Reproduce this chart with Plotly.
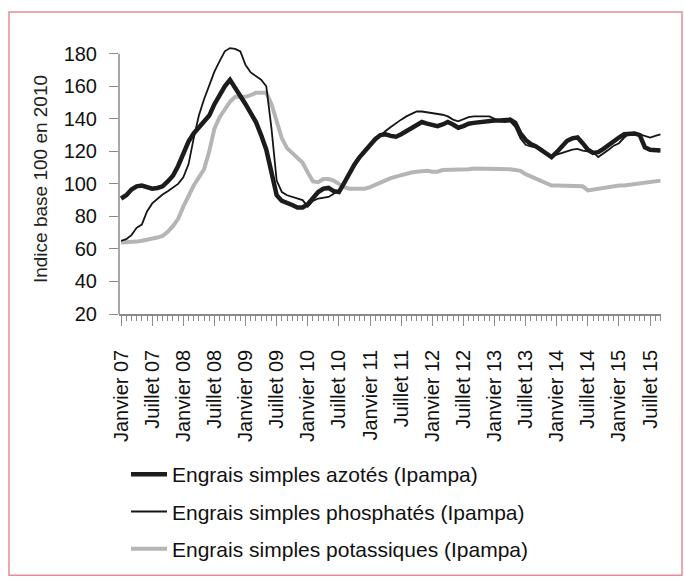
import plotly.graph_objects as go

# Monthly indices (base 100 in 2010), January 2007 to September 2015
azote = [
    91, 93, 96.5, 98.5, 99, 98, 97, 97.5, 98.5, 101.5, 105, 111,
    118, 126, 131, 135, 138, 142, 149, 155, 160, 164, 159, 155,
    149, 143.5, 138, 130, 121, 107, 93, 89.5, 88.5, 87, 85.5, 85.5,
    87.5, 91, 95, 97, 97.5, 95.5, 95, 100.5, 106.5, 112, 116.5, 120.5,
    124, 127.5, 130, 130.5, 129.5, 129, 130.5, 132.5, 134.5, 136.5, 138, 137,
    136, 135.5, 136.5, 138, 136.5, 134.5, 135.5, 137, 137.5, 138, 138.5, 138.5,
    139, 139, 139.5, 139.5, 137.5, 131, 127, 124.5, 123, 121, 118.5, 116.5,
    119.5, 123.5, 126.5, 128, 128.5, 125, 121, 119, 119.5, 121.5, 124, 126.5,
    128.5, 130.5, 131, 131, 130, 122.5, 121, 120.5, 120.5,
]

phosphate = [
    65, 66, 68.5, 73, 75, 83, 88, 91, 93.5, 95.5, 97.5, 100,
    104, 112, 128, 142, 152, 161, 169, 175.5, 181.5, 183.5, 183, 181.5,
    173, 168.5, 166, 164, 160, 134, 102, 95, 93, 92, 91, 90,
    86, 89.5, 91, 91.5, 92, 94, 96, 101, 107, 112.5, 117, 121,
    124, 127, 130, 132.5, 135, 137.5, 139.5, 141.5, 143, 144.5, 144.5, 144,
    143.5, 143, 142.5, 141.5, 139.5, 138.5, 140, 141, 141.5, 141.5, 141.5, 141.5,
    140, 138.5, 138, 138.5, 135, 128, 124, 123, 122.5, 121.5, 119, 117,
    118, 119, 120, 121, 121.5, 120.5, 120, 119.5, 116.5, 118.5, 121, 123.5,
    125, 128.5, 131, 131.5, 130.5, 129.5, 128.5, 129.5, 130.5,
]

potasse = [
    64, 64, 64.5, 64.5, 65, 65.5, 66, 67, 68, 70.5, 74, 78.5,
    86, 93, 99, 104, 109, 120, 134, 141, 145.5, 150.5, 153.5, 153.5,
    153.5, 154.5, 156, 156, 156, 149, 138, 128, 122, 119, 116, 113,
    107, 101.5, 101, 103, 103, 102, 100, 98, 97, 97, 97, 97,
    98, 99.5, 101, 102, 103.5, 104.5, 105.5, 106.5, 107, 107.5, 108, 108,
    107.5, 107.5, 108.5, 108.5, 108.5, 109, 109, 109, 109.5, 109.5, 109.5, 109.5,
    109.5, 109.5, 109.5, 109, 108.5, 108, 106, 104.5, 103, 101.5, 100, 99,
    99, 99, 99, 99, 99, 98.5, 96, 96.5, 97.5, 98, 98, 98.5,
    99, 99, 99.5, 100, 100.5, 101, 101.5, 102, 102,
]

tick_labels = [
    "Janvier 07", "Juillet 07", "Janvier 08", "Juillet 08", "Janvier 09",
    "Juillet 09", "Janvier 10", "Juillet 10", "Janvier 11", "Juillet 11",
    "Janvier 12", "Juillet 12", "Janvier 13", "Juillet 13", "Janvier 14",
    "Juillet 14", "Janvier 15", "Juillet 15",
]

y_ticks = [20, 40, 60, 80, 100, 120, 140, 160, 180]

series_names = [
    "Engrais simples azotés (Ipampa)",
    "Engrais simples phosphatés (Ipampa)",
    "Engrais simples potassiques (Ipampa)",
]

months = list(range(len(azote)))
tick_positions = [6 * i for i in range(len(tick_labels))]

FONT = "Liberation Sans, Arial, sans-serif"
W, H = 684, 581
Y_MIN, Y_AXIS_TOP, Y_MAX = 20, 180, 186
# pixel rows of the 20 and 180 gridlines; the range runs a little past 180
PX_20, PX_180 = 316, 54
px_per_unit = (PX_20 - PX_180) / (Y_AXIS_TOP - Y_MIN)
L, R = 119, 23
T = PX_180 - (Y_MAX - Y_AXIS_TOP) * px_per_unit
B = H - PX_20
plot_w = W - L - R
plot_h = H - T - B


def px_to_paper_x(px):
    return (px - L) / plot_w


def px_to_paper_y(py):
    return (H - B - py) / plot_h


fig = go.Figure()

fig.add_trace(go.Scatter(
    x=months, y=potasse, mode="lines", name=series_names[2],
    line=dict(color="#b5b5b5", width=4), legendrank=3, legendgroup="k",
))
fig.add_trace(go.Scatter(
    x=months, y=phosphate, mode="lines", name=series_names[1],
    line=dict(color="#151515", width=1.8), legendrank=2, legendgroup="p",
))
fig.add_trace(go.Scatter(
    x=months, y=azote, mode="lines", name=series_names[0],
    line=dict(color="#1c1c1c", width=4.5), legendrank=1, legendgroup="n",
))

axis_grey = "#8a8a8a"

fig.update_layout(
    width=W, height=H,
    margin=dict(l=L, r=R, t=T, b=B, pad=0),
    paper_bgcolor="white", plot_bgcolor="white",
    font=dict(family=FONT, size=20, color="#111"),
    showlegend=True,
    legend=dict(
        x=px_to_paper_x(126), y=px_to_paper_y(457),
        xanchor="left", yanchor="top",
        font=dict(size=21, color="#111"),
        itemwidth=36,
        tracegroupgap=7, bgcolor="rgba(0,0,0,0)",
        traceorder="grouped",
    ),
    xaxis=dict(
        range=[-0.4, 104.1],
        showgrid=False, zeroline=False,
        showline=True, linecolor=axis_grey, linewidth=1.5,
        tickmode="array", tickvals=tick_positions, ticktext=tick_labels,
        ticks="outside", ticklen=10, tickwidth=1.2, tickcolor=axis_grey,
        tickangle=-90, tickfont=dict(size=20, color="#111"),
        ticklabelstandoff=16,
        minor=dict(tickmode="array", tickvals=months, ticks="outside",
                   ticklen=5, tickwidth=1, tickcolor=axis_grey),
    ),
    yaxis=dict(
        range=[Y_MIN, Y_MAX],
        showgrid=False, zeroline=False, showline=False,
        tickmode="array", tickvals=y_ticks,
        ticks="outside", ticklen=9, tickwidth=1.2, tickcolor=axis_grey,
        tickfont=dict(size=20, color="#111"),
        ticklabelstandoff=8,
        title=dict(text="Indice base 100 en 2010",
                   font=dict(size=19, color="#222"), standoff=10),
    ),
    shapes=[
        # vertical axis line, stopping at the top tick
        dict(type="line", xref="paper", yref="y",
             x0=0, x1=0, y0=Y_MIN, y1=Y_AXIS_TOP,
             line=dict(color=axis_grey, width=1.5), layer="above"),
        # frame around the whole figure
        dict(type="rect", xref="paper", yref="paper",
             x0=px_to_paper_x(9), x1=px_to_paper_x(682),
             y0=px_to_paper_y(579), y1=px_to_paper_y(12),
             line=dict(color="#e98a98", width=1.5),
             fillcolor="rgba(0,0,0,0)", layer="below"),
    ],
)

fig.write_html("out.html")
